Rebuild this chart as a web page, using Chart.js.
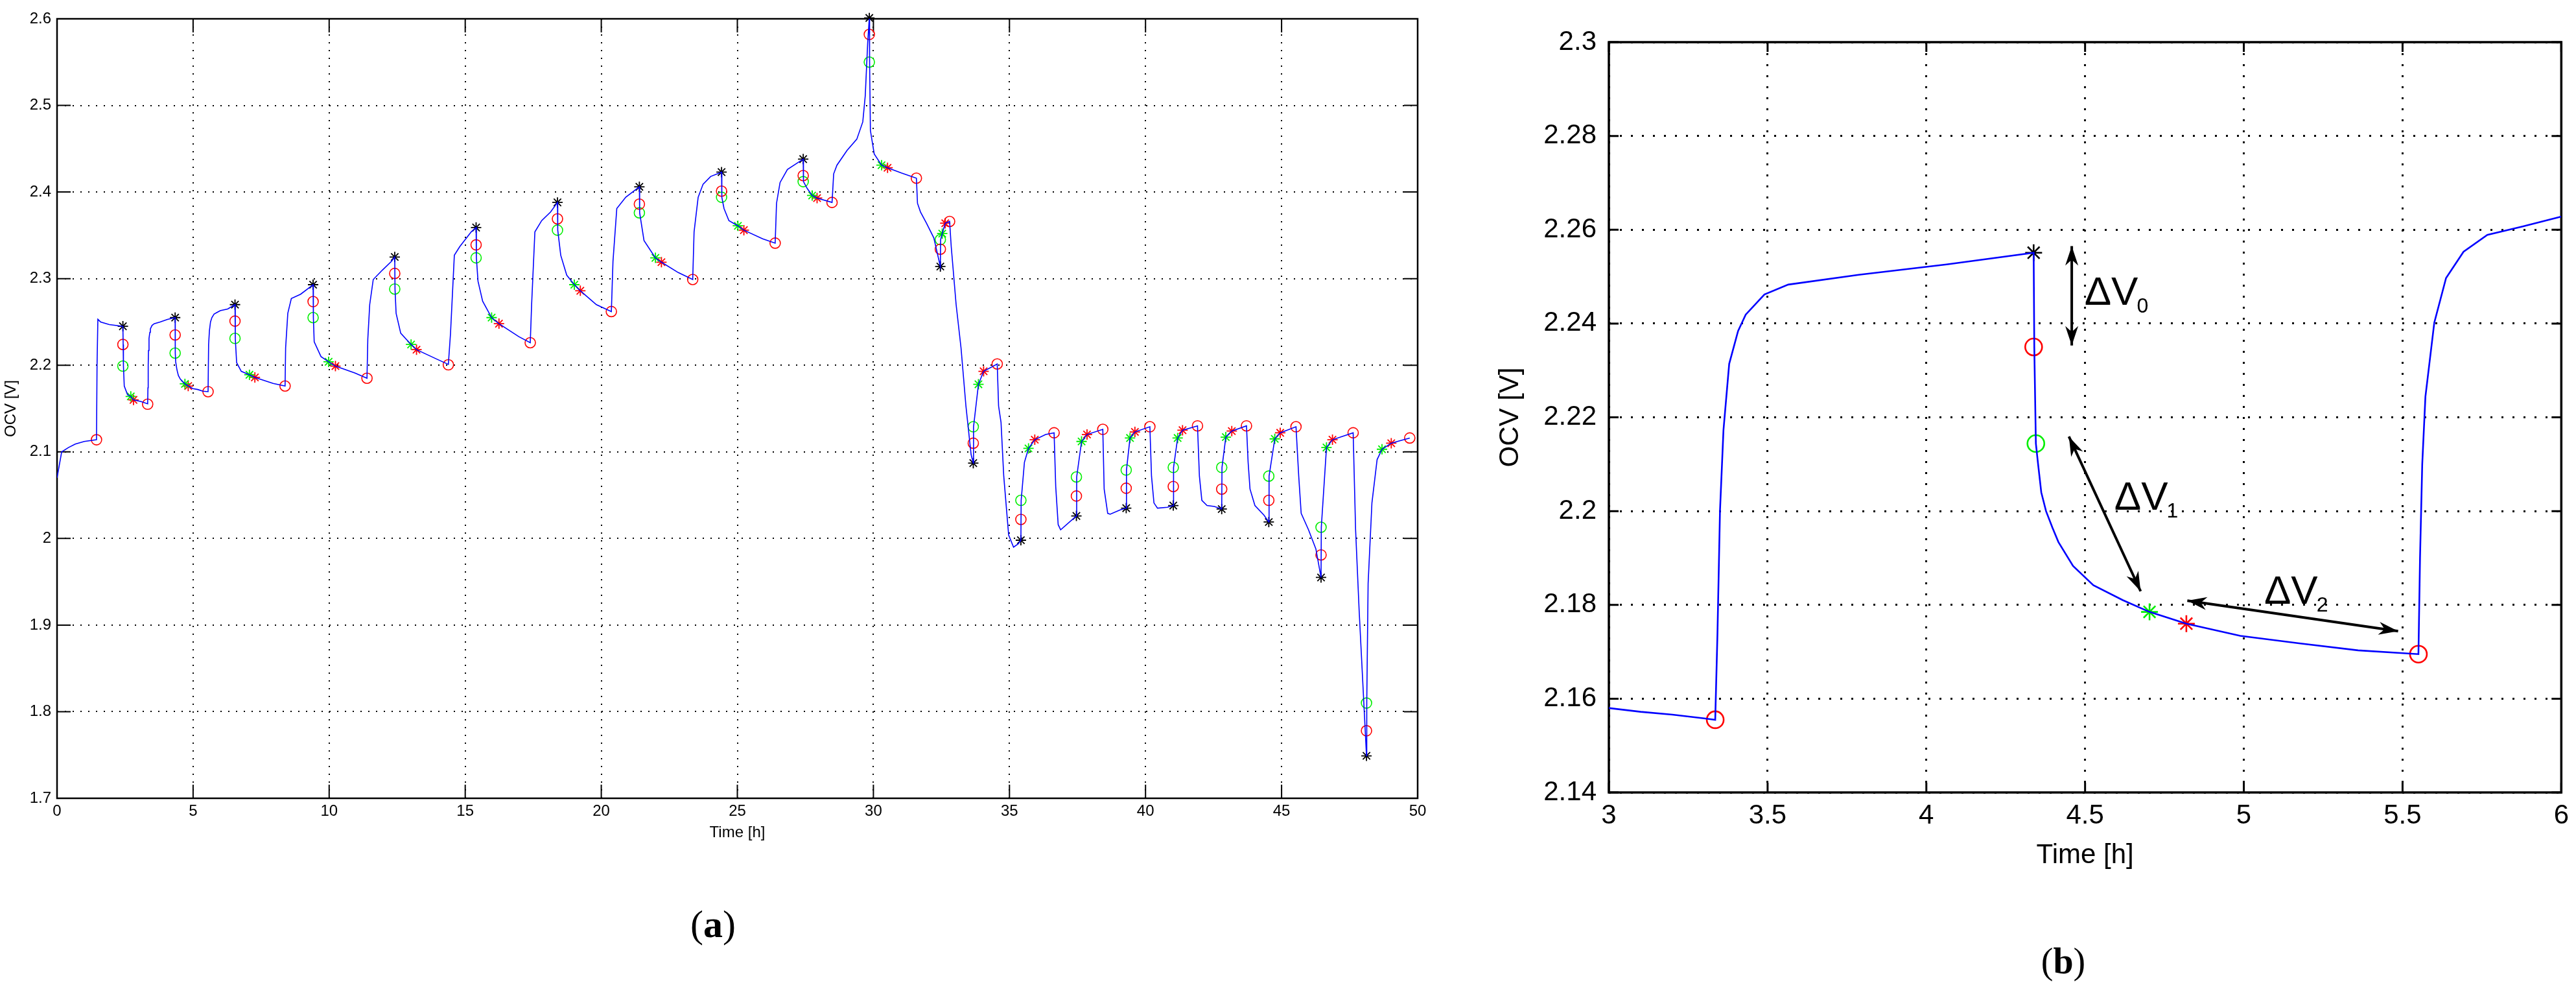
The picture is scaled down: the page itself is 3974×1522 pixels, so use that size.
<!DOCTYPE html>
<html>
<head>
<meta charset="utf-8">
<script src="https://cdn.jsdelivr.net/npm/chart.js@4.4.0/dist/chart.umd.min.js"></script>
<style>
  body { margin: 0; background: #fff; width: 3974px; height: 1522px; position: relative; overflow: hidden; }
  canvas { position: absolute; top: 0; }
  #chartA { left: 0; }
  #chartB { left: 2150px; }
  .cap { position: absolute; transform: translate(-50%, -50%); font-family: "Liberation Serif", "Times New Roman", serif; color: #000; }
</style>
</head>
<body>
<canvas id="chartA" width="2260" height="1310"></canvas>
<canvas id="chartB" width="1824" height="1350"></canvas>
<div class="cap" style="left:1100px; top:1425px; font-size:60px">(<b>a</b>)</div>
<div class="cap" style="left:3183px; top:1482px; font-size:56px">(<b>b</b>)</div>
<script>
// ---- (a) full test, 0-50 h ----
const timeA = [0.00, 0.17, 0.42, 0.67, 1.00, 1.45, 1.47, 1.50, 1.60, 1.92, 2.42, 2.43, 2.44, 2.47, 2.59, 2.71, 2.81, 3.09,
  3.33, 3.34, 3.35, 3.36, 3.38, 3.41, 3.43, 3.49, 3.57, 3.79, 4.06, 4.34, 4.345, 4.36, 4.40, 4.42, 4.46, 4.53, 4.62, 4.70, 4.82, 4.99, 5.17, 5.36,
  5.55, 5.57, 5.60, 5.64, 5.69, 5.77, 5.88, 6.00, 6.27, 6.54, 6.55, 6.60, 6.77, 7.07, 7.27, 7.94,
  8.38, 8.40, 8.48, 8.61, 8.95, 9.41, 9.42, 9.45, 9.70, 9.98, 10.23, 10.95,
  11.39, 11.42, 11.49, 11.62, 11.96, 12.29, 12.41, 12.42, 12.46, 12.63, 13.01, 13.21, 13.96,
  14.38, 14.46, 14.60, 14.80, 15.22, 15.40, 15.41, 15.47, 15.64, 15.97, 16.24, 16.97,
  17.39, 17.44, 17.56, 17.81, 18.14, 18.39, 18.40, 18.51, 18.73, 19.01, 19.23, 19.82,
  20.37, 20.43, 20.57, 20.90, 21.40, 21.41, 21.57, 21.99, 22.21, 22.83,
  23.36, 23.41, 23.56, 23.74, 24.02, 24.42, 24.43, 24.51, 24.69, 25.02, 25.24, 25.93,
  26.39, 26.44, 26.57, 26.84, 27.42, 27.43, 27.57, 27.75, 27.93,
  28.48, 28.54, 28.66, 29.03, 29.39, 29.61, 29.70, 29.79, 29.85, 29.86, 29.89, 30.03, 30.30, 30.52, 31.03,
  31.58, 31.62, 31.73, 31.95, 32.22, 32.46, 32.47, 32.53, 32.64, 32.80, 32.86, 33.04, 33.22, 33.40, 33.59,
  33.67, 33.68, 33.86, 34.05, 34.55, 34.60, 34.69, 34.79, 34.97, 35.15, 35.33,
  35.42, 35.43, 35.55, 35.70, 35.93, 36.33, 36.64, 36.70, 36.79, 36.88,
  37.46, 37.47, 37.65, 37.85, 38.43, 38.48, 38.61, 38.70, 39.07,
  39.29, 39.30, 39.43, 39.61, 40.16, 40.22, 40.31, 40.44, 40.80,
  41.02, 41.03, 41.18, 41.36, 41.91, 41.98, 42.07, 42.26, 42.53,
  42.80, 42.81, 42.95, 43.17, 43.71, 43.77, 43.84, 44.02, 44.35,
  44.53, 44.54, 44.75, 44.95, 45.53, 45.63, 45.72, 45.99, 46.26,
  46.45, 46.46, 46.65, 46.87, 47.63, 47.72, 47.85, 48.00,
  48.12, 48.13, 48.18, 48.32, 48.51, 48.69, 49.03, 49.36, 49.71];
const ocvA = [2.070, 2.100, 2.105, 2.109, 2.112, 2.114, 2.200, 2.253, 2.250, 2.247, 2.245, 2.224, 2.199, 2.176, 2.166, 2.164, 2.160, 2.158,
  2.1555, 2.174, 2.200, 2.217, 2.231, 2.238, 2.242, 2.246, 2.248, 2.250, 2.253, 2.255, 2.214, 2.204, 2.196, 2.193, 2.188, 2.184, 2.181, 2.1785, 2.176, 2.173, 2.172, 2.170,
  2.1695, 2.224, 2.240, 2.250, 2.255, 2.259, 2.261, 2.263, 2.265, 2.270, 2.231, 2.203, 2.193, 2.189, 2.186, 2.179,
  2.176, 2.220, 2.260, 2.277, 2.282, 2.293, 2.255, 2.227, 2.210, 2.204, 2.199, 2.191,
  2.185, 2.230, 2.270, 2.299, 2.310, 2.320, 2.325, 2.288, 2.260, 2.237, 2.224, 2.218, 2.207,
  2.201, 2.237, 2.327, 2.337, 2.354, 2.359, 2.324, 2.297, 2.274, 2.255, 2.248, 2.233,
  2.226, 2.270, 2.354, 2.367, 2.377, 2.388, 2.356, 2.327, 2.304, 2.293, 2.286, 2.270,
  2.262, 2.320, 2.381, 2.394, 2.406, 2.376, 2.344, 2.324, 2.319, 2.307,
  2.299, 2.354, 2.394, 2.409, 2.418, 2.423, 2.394, 2.381, 2.367, 2.361, 2.356, 2.346,
  2.341, 2.387, 2.411, 2.426, 2.438, 2.412, 2.404, 2.396, 2.393,
  2.388, 2.421, 2.431, 2.448, 2.461, 2.481, 2.511, 2.572, 2.601, 2.550, 2.471, 2.444, 2.431, 2.428, 2.422,
  2.416, 2.387, 2.377, 2.364, 2.347, 2.314, 2.345, 2.352, 2.364, 2.366, 2.337, 2.270, 2.220, 2.153, 2.097,
  2.087, 2.129, 2.178, 2.193, 2.2015, 2.153, 2.134, 2.072, 2.004, 1.990, 1.994,
  1.998, 2.044, 2.088, 2.104, 2.114, 2.120, 2.122, 2.060, 2.016, 2.010,
  2.026, 2.071, 2.112, 2.120, 2.126, 2.057, 2.029, 2.028, 2.033,
  2.035, 2.079, 2.116, 2.123, 2.129, 2.072, 2.041, 2.035, 2.036,
  2.038, 2.082, 2.116, 2.125, 2.130, 2.072, 2.044, 2.038, 2.037,
  2.034, 2.082, 2.117, 2.124, 2.130, 2.088, 2.057, 2.038, 2.027,
  2.019, 2.072, 2.115, 2.122, 2.129, 2.072, 2.029, 2.010, 1.988,
  1.955, 2.013, 2.105, 2.114, 2.122, 2.010, 1.917, 1.824,
  1.749, 1.810, 1.948, 2.041, 2.091, 2.103, 2.110, 2.113, 2.116];

const blackStarsA = [[2.42, 2.245], [4.34, 2.255], [6.54, 2.270], [9.41, 2.293], [12.41, 2.325], [15.40, 2.359], [18.39, 2.388],
  [21.40, 2.406], [24.42, 2.423], [27.42, 2.438], [29.85, 2.601], [32.46, 2.314], [33.67, 2.087], [35.42, 1.998], [37.46, 2.026],
  [39.29, 2.035], [41.02, 2.038], [42.80, 2.034], [44.53, 2.019], [46.45, 1.955], [48.12, 1.749]];
const redCirclesA = [[1.45, 2.114], [2.42, 2.224], [3.33, 2.155], [4.34, 2.235], [5.55, 2.1695], [6.54, 2.251], [8.38, 2.176],
  [9.41, 2.2735], [11.39, 2.185], [12.41, 2.306], [14.38, 2.2005], [15.40, 2.339], [17.39, 2.226], [18.39, 2.369], [20.37, 2.262],
  [21.40, 2.386], [23.36, 2.299], [24.42, 2.401], [26.39, 2.341], [27.42, 2.419], [28.48, 2.388], [29.85, 2.582], [31.58, 2.416],
  [32.46, 2.334], [32.80, 2.366], [33.67, 2.110], [34.55, 2.2015], [35.42, 2.022], [36.64, 2.122], [37.46, 2.049], [38.43, 2.126],
  [39.29, 2.058], [40.16, 2.129], [41.02, 2.060], [41.91, 2.130], [42.80, 2.057], [43.71, 2.130], [44.53, 2.044], [45.53, 2.129],
  [46.45, 1.981], [47.63, 2.122], [48.12, 1.778], [49.71, 2.116]];
const greenCirclesA = [[2.42, 2.199], [4.34, 2.214], [6.54, 2.231], [9.41, 2.255], [12.41, 2.288], [15.40, 2.324], [18.39, 2.356],
  [21.40, 2.376], [24.42, 2.394], [27.42, 2.412], [29.85, 2.550], [32.46, 2.345], [33.67, 2.129], [35.42, 2.044], [37.46, 2.071],
  [39.29, 2.079], [41.02, 2.082], [42.80, 2.082], [44.53, 2.072], [46.45, 2.013], [48.12, 1.810]];
const greenStarsA = [[2.71, 2.164], [4.70, 2.1785], [7.07, 2.189], [9.98, 2.204], [13.01, 2.224], [15.97, 2.255], [19.01, 2.293],
  [21.99, 2.324], [25.02, 2.361], [27.75, 2.396], [30.30, 2.431], [32.53, 2.352], [33.86, 2.178], [35.70, 2.104], [37.65, 2.112],
  [39.43, 2.116], [41.18, 2.116], [42.95, 2.117], [44.75, 2.115], [46.65, 2.105], [48.69, 2.103]];
const redStarsA = [[2.81, 2.160], [4.82, 2.176], [7.27, 2.186], [10.23, 2.199], [13.21, 2.218], [16.24, 2.248], [19.23, 2.286],
  [22.21, 2.319], [25.24, 2.356], [27.93, 2.393], [30.52, 2.428], [32.64, 2.364], [34.05, 2.193], [35.93, 2.114], [37.85, 2.120],
  [39.61, 2.123], [41.36, 2.125], [43.17, 2.124], [44.95, 2.122], [46.87, 2.114], [49.03, 2.110]];

const xTicksA = [0, 5, 10, 15, 20, 25, 30, 35, 40, 45, 50];
const yTicksA = [1.7, 1.8, 1.9, 2.0, 2.1, 2.2, 2.3, 2.4, 2.5, 2.6];

// ---- (b) zoom on one pulse, 3-6 h ----
const timeB = [3.00, 3.10, 3.20, 3.30, 3.335, 3.342, 3.350, 3.361, 3.379, 3.407, 3.431, 3.49, 3.565, 3.787, 4.064,
  4.338, 4.340, 4.345, 4.352, 4.362, 4.377, 4.397, 4.416, 4.462, 4.526, 4.619, 4.703, 4.819, 4.989, 5.174, 5.360,
  5.550, 5.555, 5.562, 5.572, 5.600, 5.637, 5.692, 5.767, 5.878, 6.000];
const ocvB = [2.1580, 2.1572, 2.1566, 2.1558, 2.1555, 2.1737, 2.2000, 2.2173, 2.2314, 2.2384, 2.2419, 2.2462, 2.2483, 2.2504, 2.2526,
  2.2551, 2.2350, 2.2144, 2.2100, 2.2040, 2.2000, 2.1965, 2.1934, 2.1883, 2.1842, 2.1810, 2.1785, 2.1760, 2.1734, 2.1718, 2.1703,
  2.1695, 2.1900, 2.2100, 2.2244, 2.2402, 2.2497, 2.2553, 2.2589, 2.2607, 2.2628];

const blackStarsB = [[4.338, 2.2551]];
const redCirclesB = [[3.335, 2.1555], [4.338, 2.235], [5.55, 2.1695]];
const greenCirclesB = [[4.345, 2.2144]];
const greenStarsB = [[4.703, 2.1785]];
const redStarsB = [[4.819, 2.176]];

const xTicksB = [3, 3.5, 4, 4.5, 5, 5.5, 6];
const yTicksB = [2.14, 2.16, 2.18, 2.2, 2.22, 2.24, 2.26, 2.28, 2.3];

// double arrows and their labels (data units)
const arrowsB = [
  { t1: 4.458, v1: 2.2565, t2: 4.458, v2: 2.2353 },
  { t1: 4.449, v1: 2.2159, t2: 4.675, v2: 2.1829 },
  { t1: 4.822, v1: 2.1809, t2: 5.486, v2: 2.1744 }
];
const deltaLabelsB = [
  { t: 4.498, v: 2.2440, sub: '0' },
  { t: 4.592, v: 2.2003, sub: '1' },
  { t: 5.064, v: 2.1802, sub: '2' }
];

const FONT = '"Liberation Sans", Arial, Helvetica, sans-serif';

function pts(xs, ys) {
  return xs.map((x, i) => ({ x: x, y: ys[i] }));
}
function pairPts(list) {
  return list.map(p => ({ x: p[0], y: p[1] }));
}

function markerSet(list, color, style, r, w) {
  return {
    data: pairPts(list),
    showLine: false,
    pointStyle: style,
    pointRadius: r,
    pointBorderColor: color,
    pointBackgroundColor: 'rgba(0,0,0,0)',
    pointBorderWidth: w,
    clip: false
  };
}

function framePlugin(tickLen, tickW, frameW) {
  return {
    id: 'frame',
    beforeDatasetsDraw(chart) {
      const { ctx, chartArea: a, scales: { x, y } } = chart;
      ctx.save();
      ctx.strokeStyle = '#000';
      ctx.lineWidth = tickW;
      ctx.beginPath();
      x.ticks.forEach(t => {
        const px = x.getPixelForValue(t.value);
        ctx.moveTo(px, a.bottom); ctx.lineTo(px, a.bottom - tickLen);
        ctx.moveTo(px, a.top); ctx.lineTo(px, a.top + tickLen);
      });
      y.ticks.forEach(t => {
        const py = y.getPixelForValue(t.value);
        ctx.moveTo(a.left, py); ctx.lineTo(a.left + tickLen, py);
        ctx.moveTo(a.right, py); ctx.lineTo(a.right - tickLen, py);
      });
      ctx.stroke();
      ctx.lineWidth = frameW;
      ctx.strokeRect(a.left, a.top, a.right - a.left, a.bottom - a.top);
      ctx.restore();
    }
  };
}

function arrowHead(ctx, tip, from, len, half) {
  const dx = tip.x - from.x, dy = tip.y - from.y;
  const d = Math.hypot(dx, dy);
  const ux = dx / d, uy = dy / d;
  const bx = tip.x - ux * len, by = tip.y - uy * len;
  const nx = tip.x - ux * len * 0.7, ny = tip.y - uy * len * 0.7;
  ctx.beginPath();
  ctx.moveTo(tip.x, tip.y);
  ctx.lineTo(bx - uy * half, by + ux * half);
  ctx.lineTo(nx, ny);
  ctx.lineTo(bx + uy * half, by - ux * half);
  ctx.closePath();
  ctx.fill();
}

const arrowPlugin = {
  id: 'arrows',
  afterDatasetsDraw(chart) {
    const { ctx, scales: { x, y } } = chart;
    ctx.save();
    ctx.strokeStyle = '#000';
    ctx.fillStyle = '#000';
    ctx.lineWidth = 4;
    arrowsB.forEach(a => {
      const p1 = { x: x.getPixelForValue(a.t1), y: y.getPixelForValue(a.v1) };
      const p2 = { x: x.getPixelForValue(a.t2), y: y.getPixelForValue(a.v2) };
      ctx.beginPath();
      ctx.moveTo(p1.x, p1.y);
      ctx.lineTo(p2.x, p2.y);
      ctx.stroke();
      arrowHead(ctx, p1, p2, 30, 10);
      arrowHead(ctx, p2, p1, 30, 10);
    });
    ctx.textBaseline = 'alphabetic';
    ctx.textAlign = 'left';
    deltaLabelsB.forEach(l => {
      const px = x.getPixelForValue(l.t), py = y.getPixelForValue(l.v);
      ctx.font = '62px ' + FONT;
      ctx.fillText('\u0394V', px, py);
      const w = ctx.measureText('\u0394V').width;
      ctx.font = '32px ' + FONT;
      ctx.fillText(l.sub, px + w - 2, py + 12);
    });
    ctx.restore();
  }
};

function fmt(v) {
  return String(Number(v.toFixed(2)));
}

function axes(s) {
  return {
    x: {
      type: 'linear', min: s.xMin, max: s.xMax,
      afterBuildTicks: sc => { sc.ticks = s.xTicks.map(v => ({ value: v })); },
      afterFit: sc => { sc.height = s.xH; },
      grid: { color: '#000', lineWidth: s.gridW, drawTicks: false },
      border: { display: false, dash: s.dash },
      ticks: { color: '#000', padding: s.xPad, maxRotation: 0, autoSkip: false, font: { family: FONT, size: s.tickSize }, callback: fmt },
      title: { display: true, text: 'Time [h]', color: '#000', font: { family: FONT, size: s.titleSize }, padding: { top: 0, bottom: s.xTitlePad } }
    },
    y: {
      type: 'linear', min: s.yMin, max: s.yMax,
      afterBuildTicks: sc => { sc.ticks = s.yTicks.map(v => ({ value: v })); },
      afterFit: sc => { sc.width = s.yW; },
      grid: { color: '#000', lineWidth: s.gridW, drawTicks: false },
      border: { display: false, dash: s.dash },
      ticks: { color: '#000', padding: s.yPad, autoSkip: false, font: { family: FONT, size: s.tickSize }, callback: fmt },
      title: { display: true, text: 'OCV [V]', color: '#000', font: { family: FONT, size: s.titleSize }, padding: { top: s.yTitlePad, bottom: 0 } }
    }
  };
}

const baseOptions = {
  responsive: false,
  animation: false,
  devicePixelRatio: 1,
  plugins: { legend: { display: false }, tooltip: { enabled: false } }
};

new Chart(document.getElementById('chartA'), {
  type: 'scatter',
  data: {
    datasets: [
      { data: pts(timeA, ocvA), showLine: true, borderColor: '#0000ff', borderWidth: 1.6, pointRadius: 0, tension: 0 },
      markerSet(redCirclesA, '#ff0000', 'circle', 8, 1.6),
      markerSet(greenCirclesA, '#00ee00', 'circle', 8, 1.6),
      markerSet(blackStarsA, '#000000', 'star', 8, 1.8),
      markerSet(greenStarsA, '#00ee00', 'star', 8, 1.8),
      markerSet(redStarsA, '#ff0000', 'star', 8, 1.8)
    ]
  },
  options: Object.assign({}, baseOptions, {
    layout: { padding: { left: 0, right: 73, top: 29, bottom: 0 } },
    scales: axes({
      xMin: 0, xMax: 50, yMin: 1.7, yMax: 2.6, xTicks: xTicksA, yTicks: yTicksA,
      xH: 79, yW: 88, gridW: 2, dash: [2, 10], xPad: 6, yPad: 9,
      tickSize: 24, titleSize: 24, xTitlePad: 11, yTitlePad: 3
    })
  }),
  plugins: [framePlugin(21, 2, 2.5)]
});

new Chart(document.getElementById('chartB'), {
  type: 'scatter',
  data: {
    datasets: [
      { data: pts(timeB, ocvB), showLine: true, borderColor: '#0000ff', borderWidth: 2.6, pointRadius: 0, tension: 0 },
      markerSet(redCirclesB, '#ff0000', 'circle', 13, 2.6),
      markerSet(greenCirclesB, '#00ee00', 'circle', 13, 2.6),
      markerSet(blackStarsB, '#000000', 'star', 13, 2.6),
      markerSet(greenStarsB, '#00ee00', 'star', 13, 2.6),
      markerSet(redStarsB, '#ff0000', 'star', 13, 2.6)
    ]
  },
  options: Object.assign({}, baseOptions, {
    layout: { padding: { left: 0, right: 20, top: 65, bottom: 0 } },
    scales: axes({
      xMin: 3, xMax: 6, yMin: 2.14, yMax: 2.3, xTicks: xTicksB, yTicks: yTicksB,
      xH: 128, yW: 332, gridW: 3, dash: [3, 14], xPad: 11, yPad: 19,
      tickSize: 42, titleSize: 42, xTitlePad: 5, yTitlePad: 155
    })
  }),
  plugins: [framePlugin(15, 3, 3.5), arrowPlugin]
});
</script>
</body>
</html>
